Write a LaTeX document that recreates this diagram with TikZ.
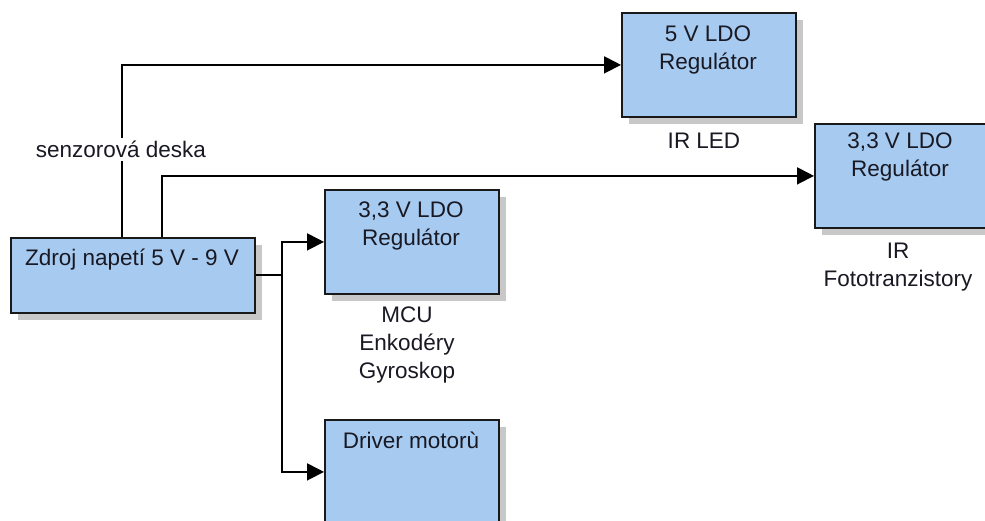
\documentclass[tikz,border=0pt]{standalone}
\usepackage{fontspec}
\setmainfont{Liberation Sans}
\usetikzlibrary{arrows.meta,shadows}
\definecolor{boxfill}{RGB}{166,202,240}
\definecolor{shadowgray}{RGB}{200,200,200}
\definecolor{txtcol}{RGB}{25,25,35}
\begin{document}
\begin{tikzpicture}[x=1pt,y=-1pt,
  box/.style={draw=black!90,line width=1.8pt,fill=boxfill,anchor=north west,
    minimum width=174pt,minimum height=104pt,inner sep=0pt,
    drop shadow={shadow xshift=7pt,shadow yshift=-7pt,fill=shadowgray,opacity=1}},
  txt/.style={anchor=base,align=center,text=txtcol,inner sep=0pt,
    font=\fontsize{22.5}{28}\selectfont},
  conn/.style={draw=black,line width=1.8pt},
  arr/.style={conn,-{Triangle[length=17pt,width=17pt]}}]
\useasboundingbox (0,0) rectangle (985,521);
\clip (0,0) rectangle (985,521);
\fill[white] (0,0) rectangle (985,521);
% boxes
\node[box,minimum width=244pt,minimum height=75pt] (src) at (10,237) {};
\node[box] (ldo5) at (621,12) {};
\node[box] (ldoR) at (814,123) {};
\node[box] (ldoM) at (324,189) {};
\node[box] (drv) at (324,419) {};
% box texts (anchor base = baseline of last line)
\node[txt] (tsrc) at (132,266) {Zdroj napetí 5 V - 9 V};
\node[txt] (t5) at (708,70) {5 V LDO\\Regulátor};
\node[txt] (tR) at (900,177) {3,3 V LDO\\Regulátor};
\node[txt] (tM) at (411,246) {3,3 V LDO\\Regulátor};
\node[txt] (tD) at (411,448) {Driver motorù};
% labels below
\node[txt] (lIR) at (704,149) {IR LED};
\node[txt] (lFT) at (898,287) {IR\\Fototranzistory};
\node[txt] (lMCU) at (407,378) {MCU\\Enkodéry\\Gyroskop};
% connectors
\coordinate (j1) at (122,64);
\coordinate (j2) at (162,175);
\draw[arr] (src.north -| j1) |- (ldo5.west);
\draw[arr] (src.north -| j2) |- (ldoR.west);
\draw[arr] (src.east) -- ++(26,0) |- (ldoM.west);
\draw[arr] (src.east) -- ++(26,0) |- (drv.west);
% label over line
\node[txt,fill=white,inner xsep=2pt,inner ysep=3pt] (lsd) at (121,158) {senzorová deska};
\end{tikzpicture}
\end{document}
